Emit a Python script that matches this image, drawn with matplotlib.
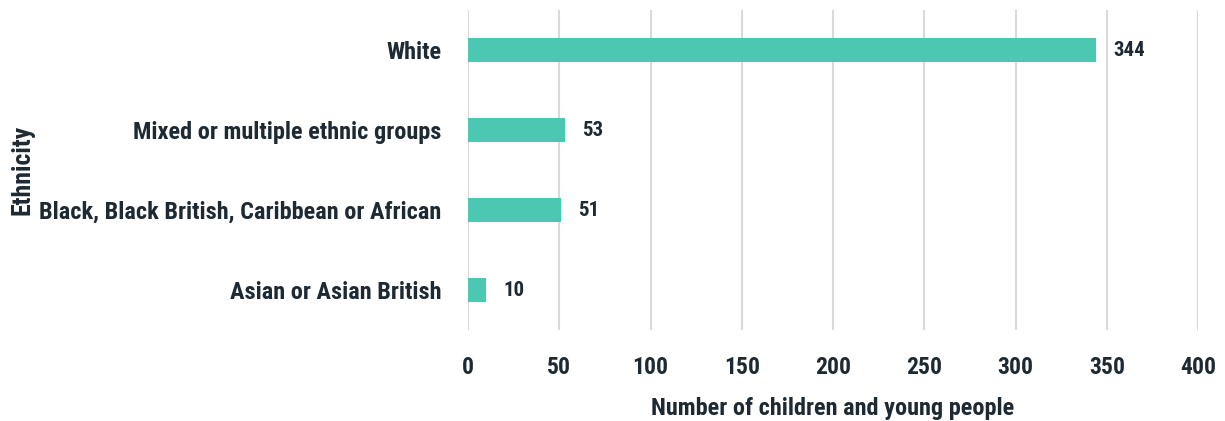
import matplotlib
matplotlib.use("Agg")
import matplotlib.pyplot as plt
from matplotlib import font_manager as fm

categories = ["White", "Mixed or multiple ethnic groups",
              "Black, Black British, Caribbean or African", "Asian or Asian British"]
values = [344, 53, 51, 10]
xticks = [0, 50, 100, 150, 200, 250, 300, 350, 400]

names = {f.name for f in fm.fontManager.ttflist}
family = "Roboto"
stretch = "normal"
for cand in ["Roboto Condensed", "Liberation Sans Narrow", "Open Sans Condensed", "Noto Sans Condensed"]:
    if cand in names:
        family = cand
        break
else:
    dv = [f for f in fm.fontManager.ttflist if f.name == "DejaVu Sans" and "ondensed" in f.fname]
    if dv:
        family = "DejaVu Sans"
        stretch = "condensed"

plt.rcParams["font.family"] = [family, "DejaVu Sans"]
plt.rcParams["font.stretch"] = stretch
plt.rcParams["font.weight"] = "bold"

TEXT = "#1e2a33"
BAR = "#4cc7b1"
GRID = "#d9d9d9"

fig = plt.figure(figsize=(12.25, 4.21), dpi=100)
ax = fig.add_axes([468/1225, 1-330/421, (1198-468)/1225, 320/421])

ypos = list(range(len(categories)))
ax.barh(ypos, values, height=0.31, color=BAR, zorder=3)
for y, v in zip(ypos, values):
    ax.text(v + 9.5, y, str(v), va="center", ha="left", fontsize=15,
            color=TEXT, fontweight="bold")

ax.set_xlim(0, 400)
ax.set_ylim(3.5, -0.5)
ax.set_yticks(ypos)
ax.set_yticklabels(categories, fontsize=17.5, color=TEXT, fontweight="bold")
ax.set_xticks(xticks)
ax.set_xticklabels([str(t) for t in xticks], fontsize=17, color=TEXT, fontweight="bold")
ax.tick_params(axis="y", length=0, pad=19)
ax.tick_params(axis="x", length=0, pad=19)
ax.grid(axis="x", color=GRID, linewidth=1.5, zorder=0)
for s in ax.spines.values():
    s.set_visible(False)

ax.set_xlabel("Number of children and young people", fontsize=17.5, color=TEXT,
              fontweight="bold", labelpad=13)
fig.text(22/1225, 1-170/421, "Ethnicity", rotation=90, ha="center", va="center",
         fontsize=18.5, color=TEXT, fontweight="bold")

fig.savefig("out.png", dpi=100)
